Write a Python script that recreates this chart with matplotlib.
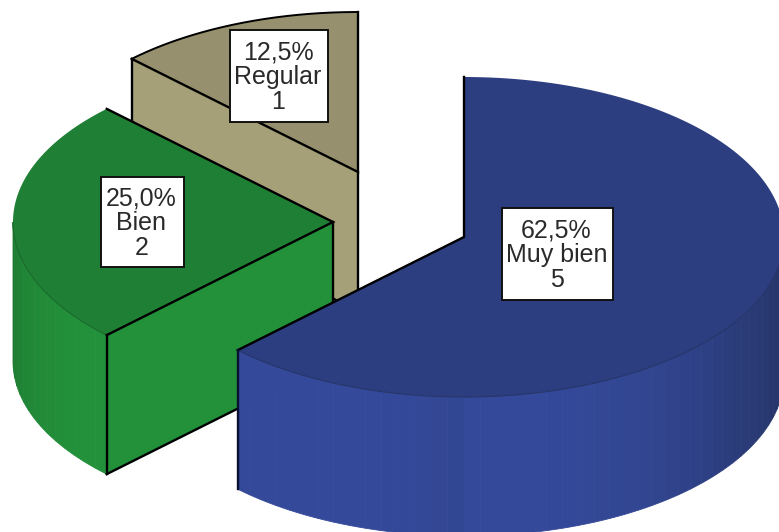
import numpy as np
import matplotlib
matplotlib.use("Agg")
import matplotlib.pyplot as plt
from matplotlib.colors import to_rgb
from matplotlib.patches import Polygon, Rectangle

plt.rcParams['font.family'] = ['Liberation Sans', 'DejaVu Sans']

# data
categories = ['Muy bien', 'Bien', 'Regular']
counts = [5, 2, 1]
percents = [62.5, 25.0, 12.5]

# layout of the exploded slices, in pixels
centers = [(464, 237), (333, 222), (358, 172)]
boxes = [(502, 208, 111, 92), (101, 177, 83, 90), (230, 30, 98, 92)]
top_colors = ['#2D3E80', '#1F8035', '#96906E']
cut_colors = ['#34489A', '#23903A', '#A6A078']
side_light = ['#34499A', '#23923B', '#A6A078']
side_dark = ['#263569', '#1A6A2C', '#8A8464']
rx, ry, depth = 320, 160, 139

fig = plt.figure(figsize=(7.79, 5.32), dpi=100)
ax = fig.add_axes([0, 0, 1, 1])
ax.set_xlim(0, 779)
ax.set_ylim(532, 0)
ax.axis('off')


def rim(c, a):
    # a is degrees clockwise from 12 o'clock
    t = np.radians(a)
    return c[0] + rx * np.sin(t), c[1] - ry * np.cos(t)


def draw_slice(i, a0, a1):
    c = centers[i]
    z = i * -10
    ang = np.linspace(a0, a1, 200)
    px, py = rim(c, ang)
    sx0, sy0 = rim(c, a0)
    ex, ey = rim(c, a1)

    # cut face along the a0 edge, the one that looks at the viewer
    face = [(sx0, sy0), c, (c[0], c[1] + depth), (sx0, sy0 + depth)]
    ax.add_patch(Polygon(face, fc=cut_colors[i], ec='none', zorder=z))

    # curved side, split in vertical strips for the shading
    light = np.array(to_rgb(side_light[i]))
    dark = np.array(to_rgb(side_dark[i]))
    for s in np.arange(90, 270, 3.0):
        lo, hi = max(s, a0), min(s + 3.0, a1)
        if lo >= hi:
            continue
        sa = np.linspace(lo, hi, 6)
        sx, sy = rim(c, sa)
        pts = list(zip(sx, sy)) + list(zip(sx[::-1], sy[::-1] + depth))
        k = abs(np.sin(np.radians(s))) if s < 180 else abs(np.sin(np.radians(s - 30)))
        col = light + (dark - light) * k ** 3
        ax.add_patch(Polygon(pts, fc=col, ec=col, lw=0.6, zorder=z))

    # top face
    top = [c] + list(zip(px, py))
    ax.add_patch(Polygon(top, fc=top_colors[i], ec='none', zorder=z + 1))

    # thin dark line between top and side
    front = (ang >= 90) & (ang <= 270)
    ax.plot(px[front], py[front], color=side_dark[i], lw=0.8, zorder=z + 1)

    # black edges
    ax.plot([sx0, c[0], ex], [sy0, c[1], ey], color='black', lw=1.7, zorder=z + 2,
            solid_joinstyle='miter')
    if a0 > 0:
        ax.plot([sx0, sx0], [sy0, sy0 + depth], color='black', lw=1.7, zorder=z + 2)
        ax.plot([c[0], c[0]], [c[1], c[1] + depth], color='black', lw=1.7, zorder=z + 2)
        ax.plot([c[0], sx0], [c[1] + depth, sy0 + depth], color='black', lw=1.7, zorder=z + 2)
    if a1 < 270:
        ax.plot([ex, ex], [ey, ey + depth], color='#0A1030', lw=1.7, zorder=z + 2)
    if a1 == 360:
        ax.plot(px, py, color='black', lw=1.4, zorder=z + 2)


start = 0.0
for i, p in enumerate(percents):
    end = start + p * 3.6
    draw_slice(i, start, end)
    start = end

for i, (cat, n, p) in enumerate(zip(categories, counts, percents)):
    x, y, w, h = boxes[i]
    ax.add_patch(Rectangle((x, y), w, h, fc='white', ec='#111111', lw=1.4, zorder=10))
    label = ('%.1f%%' % p).replace('.', ',') + '\n' + cat + '\n' + str(n)
    ax.text(x + w / 2 - 1, y + h / 2 + 1, label, ha='center', va='center', fontsize=18,
            linespacing=1.04, color='#2A2A2A', zorder=11)

fig.savefig('out.png', dpi=100)
